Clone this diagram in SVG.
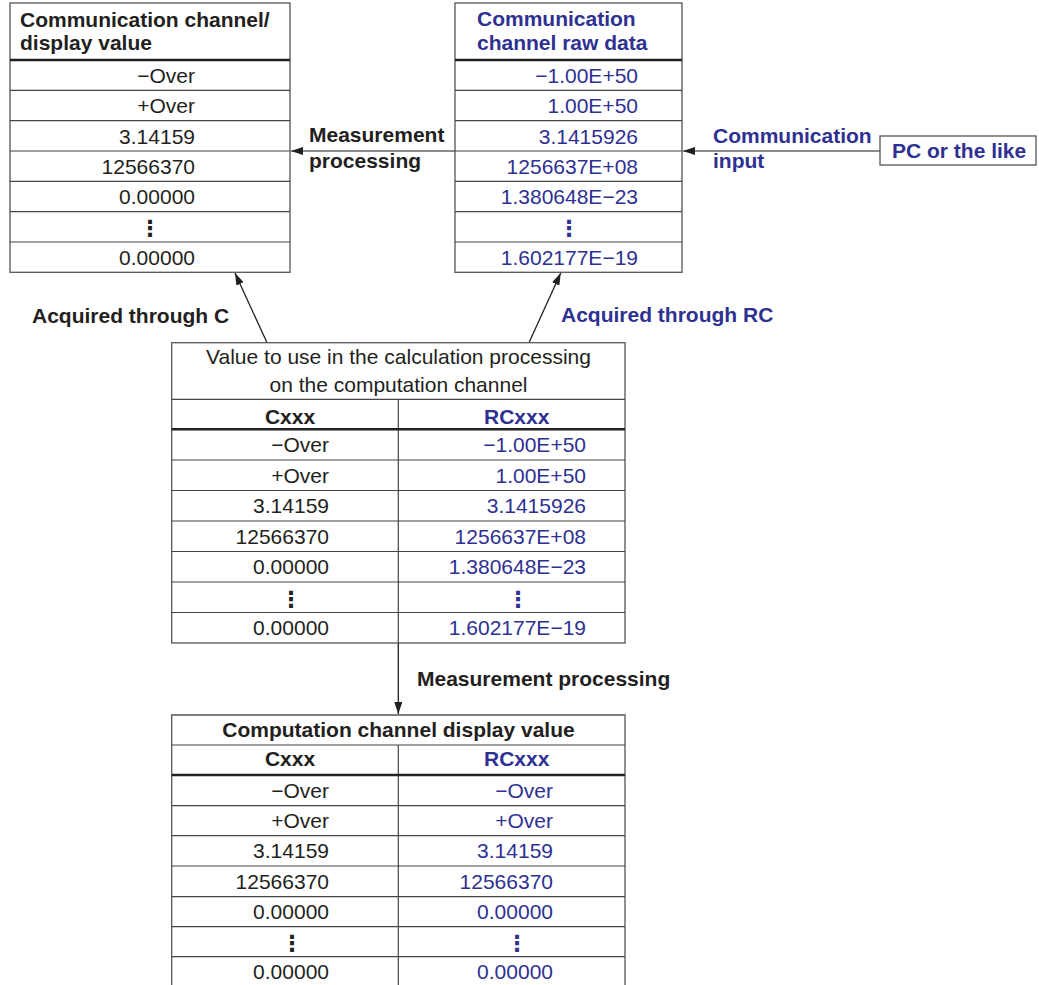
<svg xmlns="http://www.w3.org/2000/svg" width="1039" height="985" viewBox="0 0 1039 985">
<style>
text{font-family:"Liberation Sans",Arial,Helvetica,sans-serif;font-size:21px}
.b{font-weight:bold}
.k{fill:#231f20}
.u{fill:#2e3192}
.e{text-anchor:end}
.m{text-anchor:middle}
.d{font-family:"DejaVu Sans",sans-serif;font-size:22px;font-weight:bold;text-anchor:middle}
.box{fill:#fff;stroke:#555;stroke-width:1.3}
.ln{stroke:#444;stroke-width:1.2;fill:none}
.thk{stroke:#231f20;stroke-width:2.6;fill:none}
.con{stroke:#231f20;stroke-width:1.3;fill:none}
.conb{stroke:#666;stroke-width:1.3;fill:none}
</style>
<defs>
<marker id="ah" markerUnits="userSpaceOnUse" markerWidth="13" markerHeight="8" refX="12" refY="4" orient="auto">
<path d="M0,0 L12,4 L0,8 z" fill="#231f20"/>
</marker>
</defs>

<g id="connectors">
<line class="conb" x1="455" y1="151" x2="291" y2="151" marker-end="url(#ah)"/>
<line class="conb" x1="880" y1="151" x2="683" y2="151" marker-end="url(#ah)"/>
<line class="con" x1="266.7" y1="342" x2="235" y2="273" marker-end="url(#ah)"/>
<line class="con" x1="529.3" y1="342" x2="560.7" y2="273" marker-end="url(#ah)"/>
<line class="con" x1="398.3" y1="643" x2="398.3" y2="714" marker-end="url(#ah)"/>
<text class="b k" x="309" y="142">Measurement</text>
<text class="b k" x="309" y="168">processing</text>
<text class="b u" x="713" y="143">Communication</text>
<text class="b u" x="713" y="168">input</text>
<text class="b k" x="32" y="323">Acquired through C</text>
<text class="b u" x="561" y="322">Acquired through RC</text>
<text class="b k" x="417" y="686">Measurement processing</text>
</g>

<g id="comm-display">
<rect class="box" x="10" y="3" width="280" height="269.3"/>
<line class="thk" x1="10" y1="60" x2="290" y2="60"/>
<line class="ln" x1="10" y1="90.3" x2="290" y2="90.3"/>
<line class="ln" x1="10" y1="120.7" x2="290" y2="120.7"/>
<line class="ln" x1="10" y1="151" x2="290" y2="151"/>
<line class="ln" x1="10" y1="181.3" x2="290" y2="181.3"/>
<line class="ln" x1="10" y1="211.7" x2="290" y2="211.7"/>
<line class="ln" x1="10" y1="242" x2="290" y2="242"/>
<text class="b k" x="20" y="27">Communication channel/</text>
<text class="b k" x="20" y="50">display value</text>
<text class="k e" x="195" y="83">−Over</text>
<text class="k e" x="195" y="113">+Over</text>
<text class="k e" x="195" y="143.5">3.14159</text>
<text class="k e" x="195" y="174">12566370</text>
<text class="k e" x="195" y="204">0.00000</text>
<text class="d k" x="150" y="236">⋮</text>
<text class="k e" x="195" y="264.5">0.00000</text>
</g>

<g id="comm-raw">
<rect class="box" x="455" y="3" width="227" height="269.3"/>
<line class="thk" x1="455" y1="60" x2="682" y2="60"/>
<line class="ln" x1="455" y1="90.3" x2="682" y2="90.3"/>
<line class="ln" x1="455" y1="120.7" x2="682" y2="120.7"/>
<line class="ln" x1="455" y1="151" x2="682" y2="151"/>
<line class="ln" x1="455" y1="181.3" x2="682" y2="181.3"/>
<line class="ln" x1="455" y1="211.7" x2="682" y2="211.7"/>
<line class="ln" x1="455" y1="242" x2="682" y2="242"/>
<text class="b u" x="477" y="25.5">Communication</text>
<text class="b u" x="477" y="50">channel raw data</text>
<text class="u e" x="638" y="83">−1.00E+50</text>
<text class="u e" x="638" y="113">1.00E+50</text>
<text class="u e" x="638" y="143.5">3.1415926</text>
<text class="u e" x="638" y="174">1256637E+08</text>
<text class="u e" x="638" y="204">1.380648E−23</text>
<text class="d u" x="569" y="236">⋮</text>
<text class="u e" x="638" y="264.5">1.602177E−19</text>
</g>

<g id="pc">
<rect class="box" x="880" y="136" width="156" height="29"/>
<text class="b u" x="892" y="158">PC or the like</text>
</g>

<g id="calc-value">
<rect class="box" x="171.7" y="342.7" width="453.3" height="300.3"/>
<line class="ln" x1="171.7" y1="399.3" x2="625" y2="399.3"/>
<line class="ln" x1="398.3" y1="399.3" x2="398.3" y2="643"/>
<line class="thk" x1="171.7" y1="429.3" x2="625" y2="429.3"/>
<line class="ln" x1="171.7" y1="460" x2="625" y2="460"/>
<line class="ln" x1="171.7" y1="490.5" x2="625" y2="490.5"/>
<line class="ln" x1="171.7" y1="521" x2="625" y2="521"/>
<line class="ln" x1="171.7" y1="551.5" x2="625" y2="551.5"/>
<line class="ln" x1="171.7" y1="582" x2="625" y2="582"/>
<line class="ln" x1="171.7" y1="612.5" x2="625" y2="612.5"/>
<text class="k m" x="398.5" y="364">Value to use in the calculation processing</text>
<text class="k m" x="398.5" y="391.5">on the computation channel</text>
<text class="b k m" x="290" y="424">Cxxx</text>
<text class="b u m" x="516.7" y="424">RCxxx</text>
<text class="k e" x="329" y="452">−Over</text>
<text class="k e" x="329" y="482.5">+Over</text>
<text class="k e" x="329" y="513">3.14159</text>
<text class="k e" x="329" y="543.5">12566370</text>
<text class="k e" x="329" y="574">0.00000</text>
<text class="d k" x="291" y="606.5">⋮</text>
<text class="k e" x="329" y="635">0.00000</text>
<text class="u e" x="586" y="452">−1.00E+50</text>
<text class="u e" x="586" y="482.5">1.00E+50</text>
<text class="u e" x="586" y="513">3.1415926</text>
<text class="u e" x="586" y="543.5">1256637E+08</text>
<text class="u e" x="586" y="574">1.380648E−23</text>
<text class="d u" x="518" y="606.5">⋮</text>
<text class="u e" x="586" y="635">1.602177E−19</text>
</g>

<g id="display-value">
<path class="box" d="M171.7,986 V715 H625 V986"/>
<line class="ln" x1="171.7" y1="745" x2="625" y2="745"/>
<line class="ln" x1="398.3" y1="745" x2="398.3" y2="986"/>
<line class="thk" x1="171.7" y1="775" x2="625" y2="775"/>
<line class="ln" x1="171.7" y1="805.7" x2="625" y2="805.7"/>
<line class="ln" x1="171.7" y1="835.7" x2="625" y2="835.7"/>
<line class="ln" x1="171.7" y1="866" x2="625" y2="866"/>
<line class="ln" x1="171.7" y1="896.7" x2="625" y2="896.7"/>
<line class="ln" x1="171.7" y1="926.7" x2="625" y2="926.7"/>
<line class="ln" x1="171.7" y1="956.7" x2="625" y2="956.7"/>
<text class="b k m" x="398.5" y="737">Computation channel display value</text>
<text class="b k m" x="290" y="766">Cxxx</text>
<text class="b u m" x="516.7" y="766">RCxxx</text>
<text class="k e" x="329" y="797.5">−Over</text>
<text class="k e" x="329" y="828">+Over</text>
<text class="k e" x="329" y="858">3.14159</text>
<text class="k e" x="329" y="888.5">12566370</text>
<text class="k e" x="329" y="919">0.00000</text>
<text class="d k" x="292" y="951">⋮</text>
<text class="k e" x="329" y="979">0.00000</text>
<text class="u e" x="553" y="797.5">−Over</text>
<text class="u e" x="553" y="828">+Over</text>
<text class="u e" x="553" y="858">3.14159</text>
<text class="u e" x="553" y="888.5">12566370</text>
<text class="u e" x="553" y="919">0.00000</text>
<text class="d u" x="517" y="951">⋮</text>
<text class="u e" x="553" y="979">0.00000</text>
</g>
</svg>
